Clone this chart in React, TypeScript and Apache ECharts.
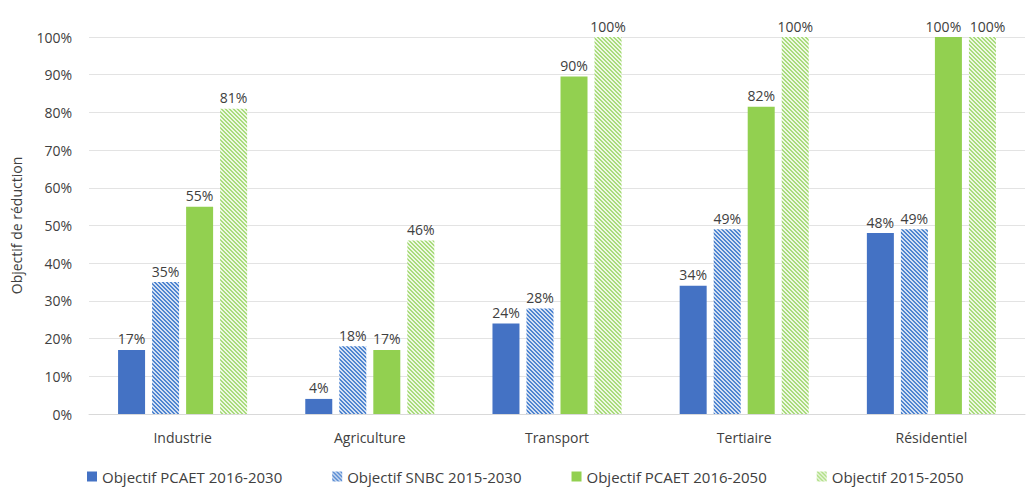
import React, { useEffect, useRef } from "react";
import * as echarts from "echarts";

const categories = ["Industrie", "Agriculture", "Transport", "Tertiaire", "Résidentiel"];
const seriesNames = [
  "Objectif PCAET 2016-2030",
  "Objectif SNBC 2015-2030",
  "Objectif PCAET 2016-2050",
  "Objectif 2015-2050",
];
const pcaet2030 = [17, 4, 24, 34, 48];
const snbc2030 = [35, 18, 28, 49, 49];
const pcaet2050 = [55, 17, 89.5, 81.5, 100];
const obj2050 = [81, 46, 100, 100, 100];
const yTicks = [0, 10, 20, 30, 40, 50, 60, 70, 80, 90, 100];

const FONT = "'Open Sans', 'Noto Sans', sans-serif";

function hatch(line: string, bg: string): string {
  const c = document.createElement("canvas");
  c.width = 4;
  c.height = 4;
  const ctx = c.getContext("2d")!;
  ctx.fillStyle = bg;
  ctx.fillRect(0, 0, 4, 4);
  ctx.fillStyle = line;
  for (let y = 0; y < 4; y++) {
    for (let x = 0; x < 4; x++) {
      if ((x - y + 8) % 4 < 2) ctx.fillRect(x, y, 1, 1);
    }
  }
  return c.toDataURL();
}

export default function App() {
  const ref = useRef<HTMLDivElement>(null);
  useEffect(() => {
    if (!ref.current) return;
    const chart = echarts.init(ref.current, undefined, { renderer: "svg" });
    const label = {
      show: true,
      position: "top" as const,
      distance: 4,
      color: "#404040",
      fontSize: 14,
      fontFamily: FONT,
      formatter: (p: any) => Math.round(p.value) + "%",
    };
    // when the two 2050 bars of a category are equal, Excel spreads their labels apart
    const spread = (dir: number) => (p: any) =>
      pcaet2050[p.dataIndex] === obj2050[p.dataIndex] &&
      Math.round(pcaet2050[p.dataIndex]) >= 100
        ? { dx: dir * 5 }
        : {};
    const mk = (name: string, data: number[], itemStyle: any, layout?: any) => ({
      name,
      type: "bar",
      data,
      barWidth: 27,
      barGap: "26%",
      itemStyle,
      label,
      ...(layout ? { labelLayout: layout } : {}),
    });
    const blueHatch = { image: hatch("#4f85d0", "#d3e0f3"), repeat: "repeat" };
    const greenHatch = { image: hatch("#a9dc7c", "#eef8e4"), repeat: "repeat" };
    chart.setOption({
      animation: false,
      textStyle: { fontFamily: FONT },
      grid: { left: 89, right: 4, top: 37, bottom: 77 },
      legend: {
        bottom: 2,
        left: 82,
        itemWidth: 10,
        itemHeight: 10,
        itemGap: 50,
        icon: "rect",
        textStyle: { fontSize: 15, color: "#404040", fontFamily: FONT },
        data: seriesNames,
      },
      xAxis: {
        type: "category",
        data: categories,
        axisTick: { show: false },
        axisLine: { lineStyle: { color: "#d9d9d9" } },
        axisLabel: { color: "#404040", fontSize: 14, margin: 16, fontFamily: FONT },
      },
      yAxis: {
        type: "value",
        min: yTicks[0],
        max: yTicks[yTicks.length - 1],
        interval: 10,
        name: "Objectif de réduction",
        nameLocation: "middle",
        nameGap: 66,
        nameRotate: 90,
        nameTextStyle: { color: "#404040", fontSize: 14, fontFamily: FONT },
        axisLabel: {
          color: "#404040",
          fontSize: 14,
          margin: 17,
          fontFamily: FONT,
          formatter: (v: number) => v + "%",
        },
        splitLine: { lineStyle: { color: "#e3e3e3" } },
        axisLine: { show: false },
        axisTick: { show: false },
      },
      series: [
        mk(seriesNames[0], pcaet2030, { color: "#4472C4" }),
        mk(seriesNames[1], snbc2030, { color: blueHatch }),
        mk(seriesNames[2], pcaet2050, { color: "#92D050" }, spread(-1)),
        mk(seriesNames[3], obj2050, { color: greenHatch }, spread(1)),
      ],
    });
    return () => chart.dispose();
  }, []);
  return (
    <div
      ref={ref}
      style={{ position: "absolute", left: 0, top: 0, width: 1029, height: 491 }}
    />
  );
}
